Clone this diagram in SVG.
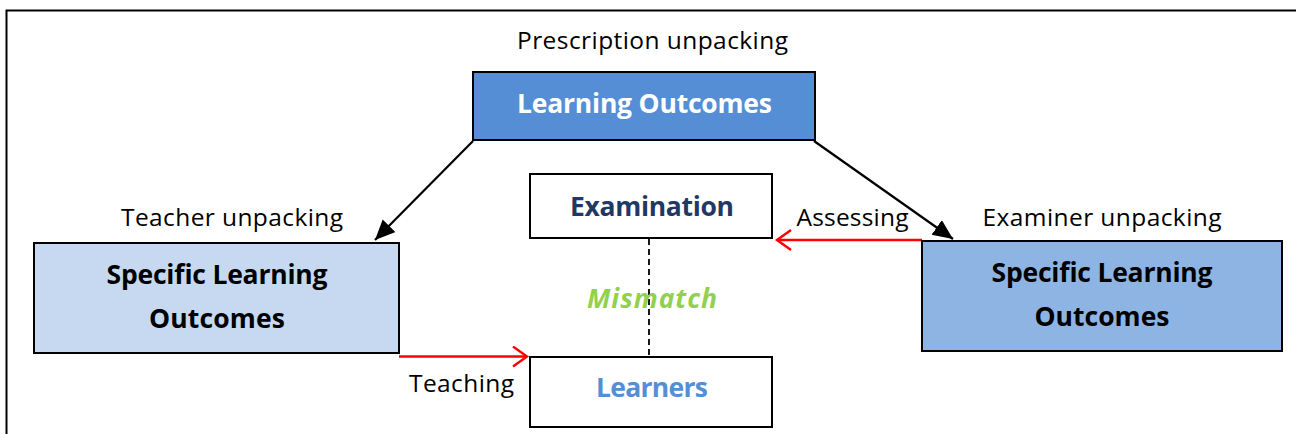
<svg xmlns="http://www.w3.org/2000/svg" width="1296" height="434" viewBox="0 0 1296 434">
  <style>
    .box{stroke:#000;stroke-width:2}
    .lbl{font-family:"Open Sans","Liberation Sans",sans-serif;font-size:24.5px;fill:#000}
    .b{font-family:"Open Sans","Liberation Sans",sans-serif;font-size:26.5px;font-weight:bold}
    .blk{stroke:#000;stroke-width:2.2;fill:none}
    .red{stroke:#FF0000;stroke-width:2.4;fill:none}
  </style>
  <defs>
    <marker id="ah" markerUnits="userSpaceOnUse" markerWidth="24" markerHeight="20" refX="20" refY="9" orient="auto">
      <path d="M0,0 L20,9 L0,18 z" fill="#000"/>
    </marker>
    <marker id="rh" markerUnits="userSpaceOnUse" markerWidth="20" markerHeight="24" refX="15" refY="11" orient="auto">
      <path d="M1,1 L15,11 L1,21" fill="none" stroke="#FF0000" stroke-width="2.4"/>
    </marker>
  </defs>
  <rect width="1296" height="434" fill="#fff"/>
  <g id="frame">
    <path d="M6.5,434 V10.5 H1296" fill="none" stroke="#000" stroke-width="2"/>
  </g>
  <g id="connectors">
    <line class="blk" x1="473" y1="141" x2="375" y2="240" marker-end="url(#ah)"/>
    <line class="blk" x1="814" y1="141" x2="953" y2="239" marker-end="url(#ah)"/>
    <line class="red" x1="399" y1="356.5" x2="527" y2="356.5" marker-end="url(#rh)"/>
    <line class="red" x1="922" y1="240" x2="777" y2="240" marker-end="url(#rh)"/>
    <line x1="649" y1="239" x2="649" y2="357" stroke="#000" stroke-width="1.8" stroke-dasharray="6,4"/>
  </g>
  <g id="learning-outcomes">
    <text class="lbl" x="652.5" y="49" text-anchor="middle" textLength="271">Prescription unpacking</text>
    <rect class="box" x="473" y="72" width="342" height="68" fill="#558ED5"/>
    <text class="b" x="644.5" y="113" text-anchor="middle" fill="#fff" textLength="255">Learning Outcomes</text>
  </g>
  <g id="teacher-slo">
    <text class="lbl" x="232" y="226" text-anchor="middle" textLength="222">Teacher unpacking</text>
    <rect class="box" x="34" y="243" width="365" height="110" fill="#C6D9F1"/>
    <text class="b" x="217" y="284" text-anchor="middle" fill="#000" textLength="221">Specific Learning</text>
    <text class="b" x="217" y="328" text-anchor="middle" fill="#000" textLength="136">Outcomes</text>
  </g>
  <g id="examiner-slo">
    <text class="lbl" x="1102" y="226" text-anchor="middle" textLength="239">Examiner unpacking</text>
    <rect class="box" x="922" y="241" width="360" height="110" fill="#8EB4E3"/>
    <text class="b" x="1102" y="282" text-anchor="middle" fill="#000" textLength="221">Specific Learning</text>
    <text class="b" x="1102" y="326" text-anchor="middle" fill="#000" textLength="135">Outcomes</text>
  </g>
  <g id="examination">
    <rect class="box" x="530" y="174" width="242" height="64" fill="#fff"/>
    <text class="b" x="652" y="216" text-anchor="middle" fill="#1F3864" textLength="164">Examination</text>
  </g>
  <g id="learners">
    <rect class="box" x="530" y="357" width="242" height="70" fill="#fff"/>
    <text class="b" x="652" y="397" text-anchor="middle" fill="#558ED5" textLength="112">Learners</text>
  </g>
  <g id="labels">
    <text class="b" x="652" y="308" text-anchor="middle" fill="#92D050" font-style="italic" font-size="28px" textLength="130">Mismatch</text>
    <text class="lbl" x="461.5" y="392" text-anchor="middle" textLength="105">Teaching</text>
    <text class="lbl" x="852.5" y="226" text-anchor="middle" textLength="112">Assessing</text>
  </g>
</svg>
